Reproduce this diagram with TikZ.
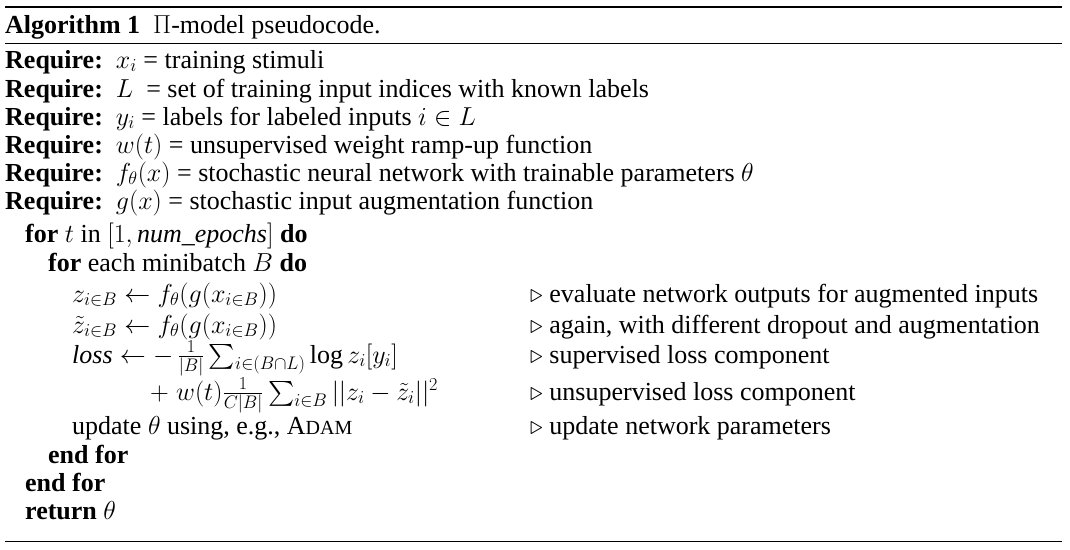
\RequirePackage{fix-cm}
\documentclass[tikz,border=0pt]{standalone}
\usepackage{amsmath}
\usepackage{fontspec}
\setmainfont{Liberation Serif}
\begin{document}
\begin{tikzpicture}[x=1pt,y=-1pt,t/.style={anchor=base west,inner sep=0pt,font=\fontsize{26}{30}\selectfont}]
\useasboundingbox (0,0) rectangle (1070,549);
\draw[line width=1.8pt] (5,7) -- (1062,7);
\draw[line width=0.8pt] (5,43) -- (1062,43);
\draw[line width=0.8pt] (5,541) -- (1062,541);
\node[t] (h) at (5,33) {\textbf{Algorithm 1}\ \ $\Pi$-model pseudocode.};
\node[t] (r1) at (5,68) {\textbf{Require:}\ \ $x_i$ = training stimuli};
\node[t] (r2) at (5,97) {\textbf{Require:}\ \ $L$\ \ = set of training input indices with known labels};
\node[t] (r3) at (5,125) {\textbf{Require:}\ \ $y_i$ = labels for labeled inputs $i\in L$};
\node[t] (r4) at (5,153) {\textbf{Require:}\ \ $w(t)$ = unsupervised weight ramp-up function};
\node[t] (r5) at (5,181) {\textbf{Require:}\ \ $f_\theta(x)$ = stochastic neural network with trainable parameters $\theta$};
\node[t] (r6) at (5,209) {\textbf{Require:}\ \ $g(x)$ = stochastic input augmentation function};
\node[t] (f1) at (25,242) {\textbf{for} $t$ in $[1, \mathit{num\_epochs}]$ \textbf{do}};
\node[t] (f2) at (48,271) {\textbf{for} each minibatch $B$ \textbf{do}};
\node[t] (l1) at (72,302) {$z_{i\in B} \leftarrow f_\theta(g(x_{i\in B}))$};
\node[t] (l2) at (72,333) {$\tilde z_{i\in B} \leftarrow f_\theta(g(x_{i\in B}))$};
\node[t] (l3) at (72,363) {$\mathit{loss} \leftarrow -\,\tfrac{1}{|B|}\sum_{i\in(B\cap L)}\log z_i[y_i]$};
\node[t] (l4) at (150,400) {$+\;w(t)\tfrac{1}{C|B|}\sum_{i\in B}||z_i-\tilde z_i||^2$};
\node[t] (l5) at (72,434) {update $\theta$ using, e.g., A{\fontsize{20}{24}\selectfont DAM}};
\node[t] (e2) at (48,463) {\textbf{end for}};
\node[t] (e1) at (25,491) {\textbf{end for}};
\node[t] (rt) at (25,519) {\textbf{return} $\theta$};
\node[t] (c1) at (530,302) {$\triangleright$ evaluate network outputs for augmented inputs};
\node[t] (c2) at (530,333) {$\triangleright$ again, with different dropout and augmentation};
\node[t] (c3) at (530,363) {$\triangleright$ supervised loss component};
\node[t] (c4) at (530,400) {$\triangleright$ unsupervised loss component};
\node[t] (c5) at (530,434) {$\triangleright$ update network parameters};
\end{tikzpicture}
\end{document}
